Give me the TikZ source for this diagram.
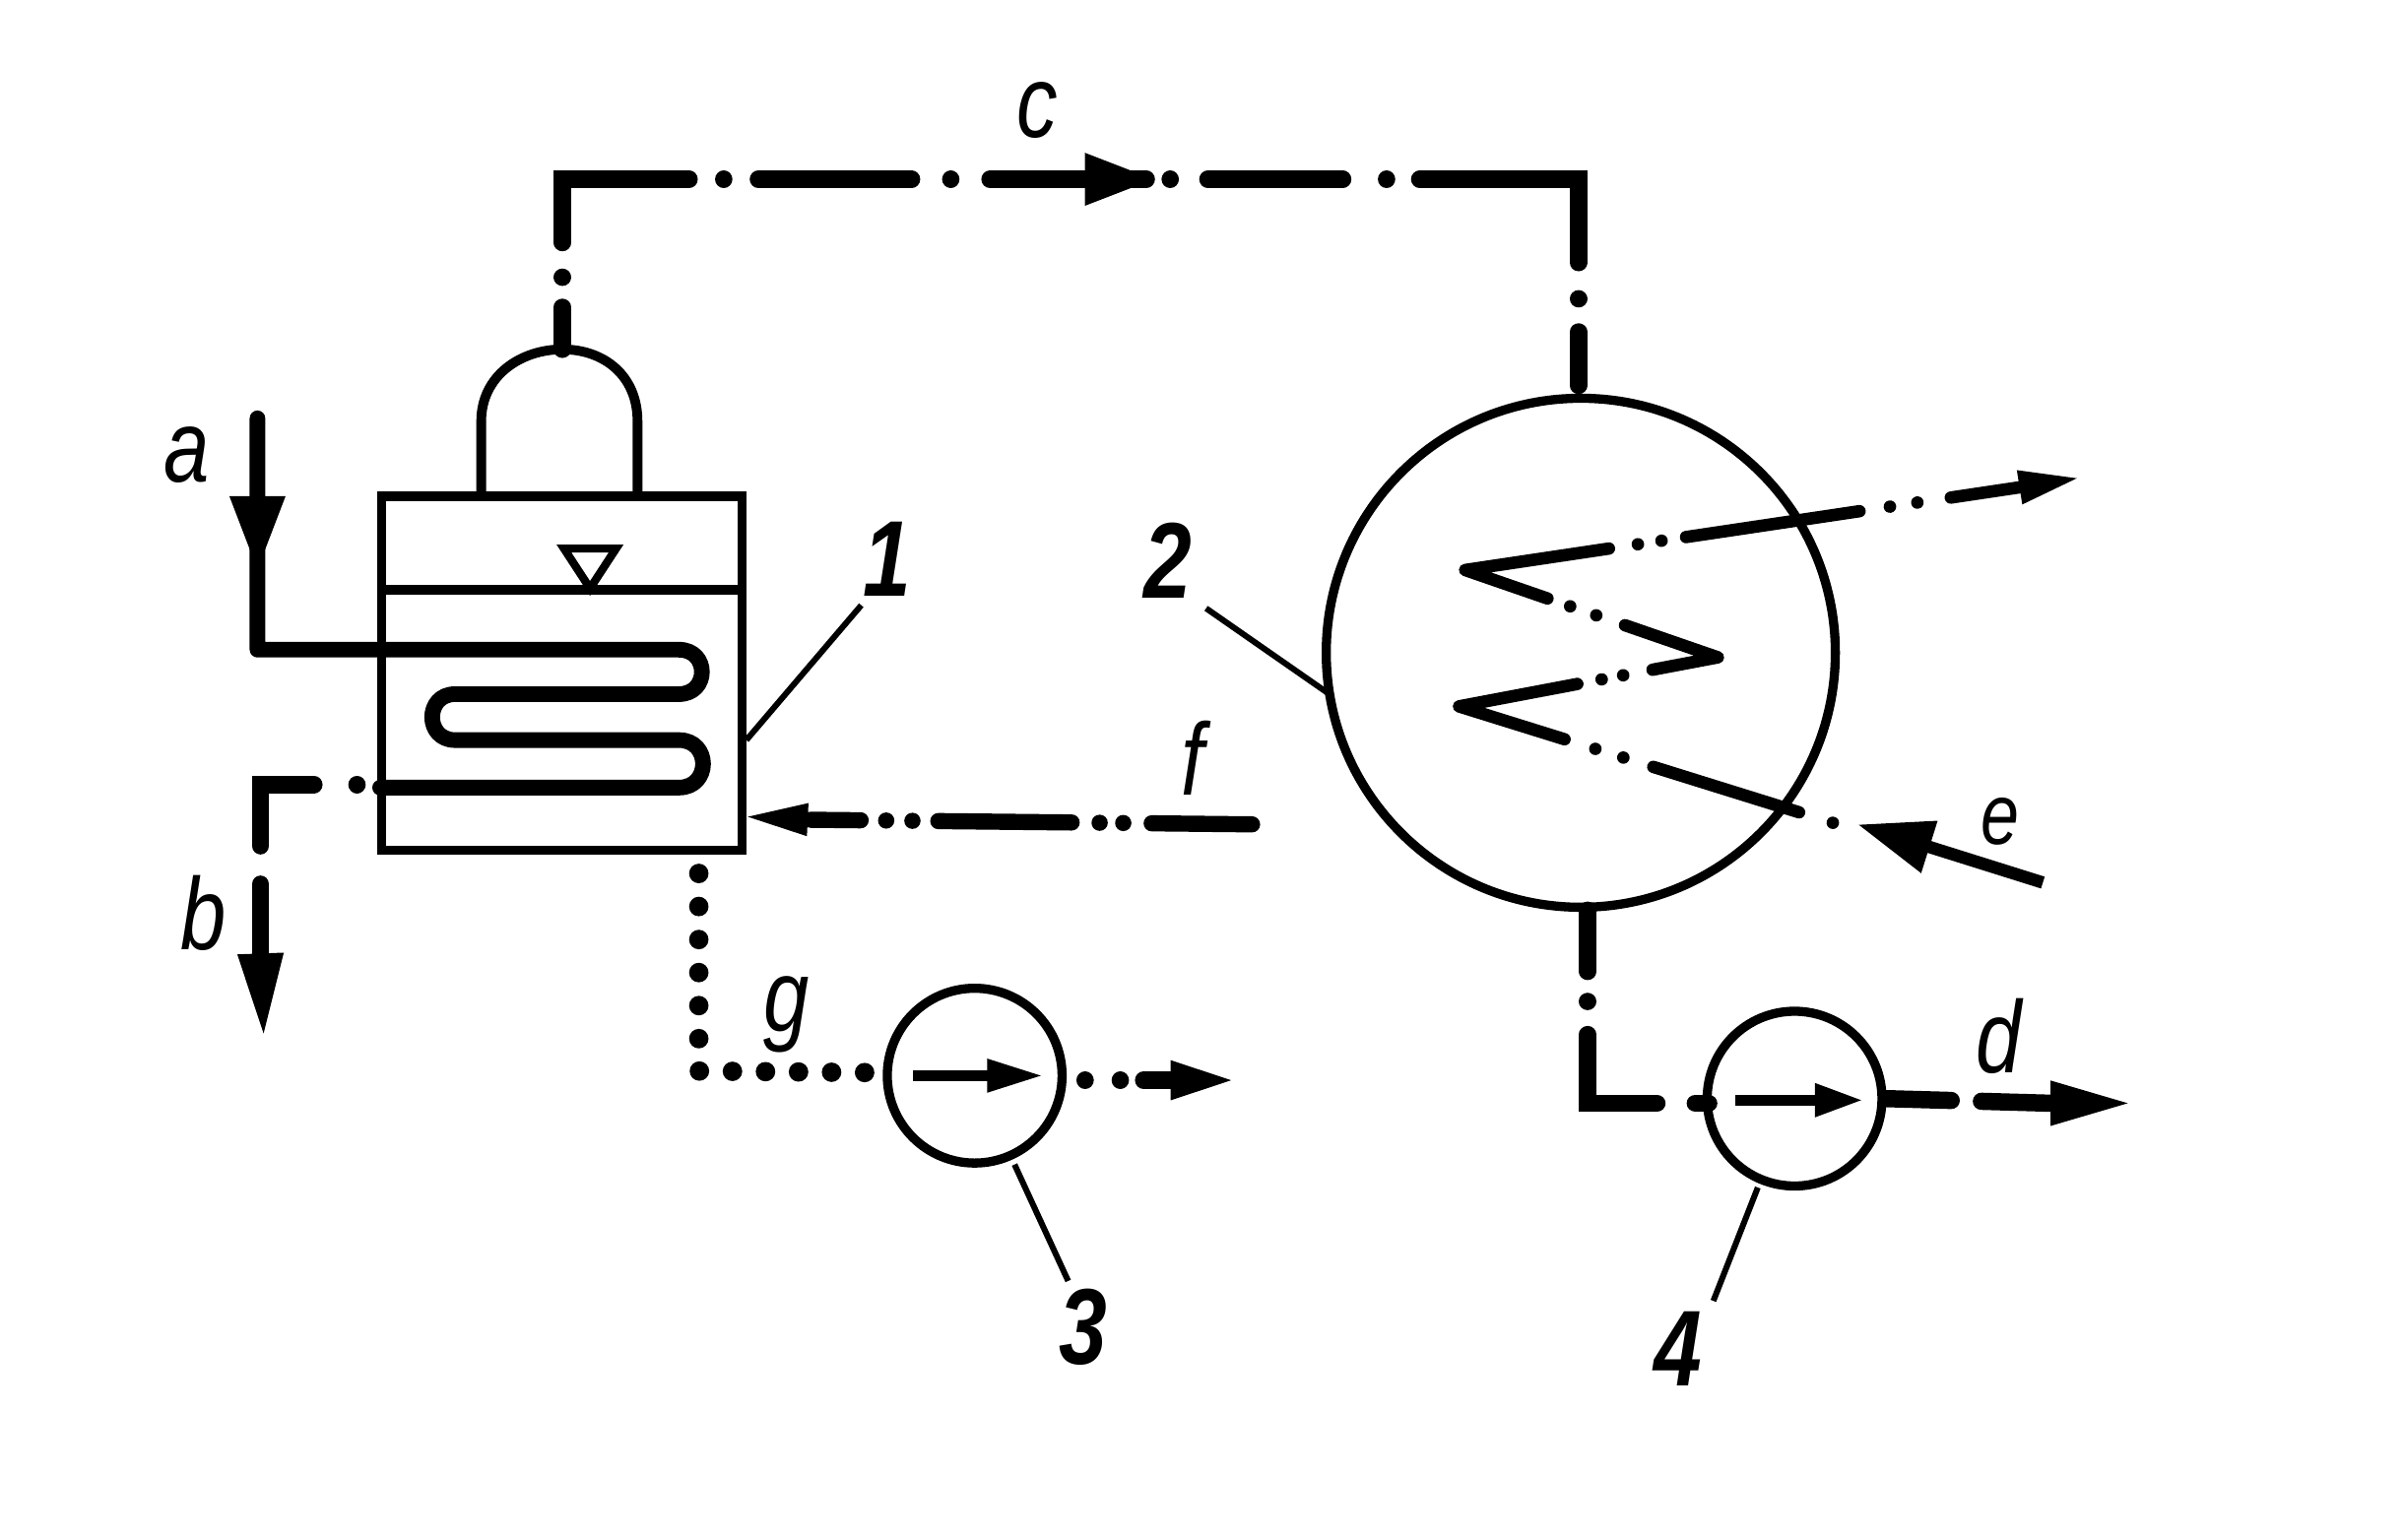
\documentclass[tikz,border=0pt]{standalone}
\usepackage{fontspec}
\newfontfamily\labelfont[FakeStretch=0.8]{Liberation Sans}
\usetikzlibrary{arrows.meta}
\tikzset{
  wall/.style={draw,line width=1.7pt,inner sep=0pt},
  leader/.style={line width=1.1pt},
  pipe/.style={line width=2.9pt,line cap=round,line join=round},
  flowline/.style={line width=3.2pt,line cap=round,line join=miter},
  dotline/.style={line width=3.6pt,line cap=round,dash pattern=on 0.03pt off 6.1pt},
  head/.style 2 args={line width=1.5pt,-{Triangle[length=#1,width=#2]}},
  lbl/.style={inner sep=0pt,font=\labelfont\itshape\fontsize{19}{19}\selectfont},
  num/.style={inner sep=0pt,font=\labelfont\bfseries\itshape\fontsize{20}{20}\selectfont}
}
\begin{document}
\begin{tikzpicture}[x=0.01cm,y=-0.01cm]
\useasboundingbox (0,0) rectangle (1568,1005);

\node[wall,rectangle,minimum width=2.35cm,minimum height=2.31cm] (vessel) at (366.5,439.5) {};
\node[wall,circle,minimum size=3.32cm] (evap) at (1031.5,426) {};
\node[wall,circle,minimum size=1.14cm] (pumpg) at (636,702) {};
\node[wall,circle,minimum size=1.14cm] (pumpd) at (1171,717) {};

\coordinate (domel) at (314,324);
\coordinate (domer) at (416,324);
\coordinate (domet) at (367,228);
\coordinate (levell) at (vessel.west |- 0,385);
\coordinate (levelr) at (vessel.east |- 0,385);
\path[draw,line width=1.8pt] (domel) -- (314,275) .. controls (314,245) and (340,228) .. (domet)
  .. controls (394,228) and (416,245) .. (416,275) -- (domer);
\path[draw,line width=1.7pt] (levell) -- (levelr);
\path[draw,line width=1.5pt] (368,358) -- (402,358) -- (385,384) -- cycle;

\coordinate (ctl) at (367,117);
\coordinate (ctr) at (1030,117);
\coordinate (etop) at (1030,258);
\path[draw,flowline,dash pattern=on 7.82pt off 5.55pt on 0.03pt off 6.40pt on 35.28pt off 6.40pt on 0.03pt off 6.40pt on 28.45pt off 7.25pt on 0.03pt off 7.25pt on 29.02pt off 4.41pt on 0.03pt off 6.97pt on 25.04pt off 8.11pt on 0.03pt off 6.12pt on 44.95pt off 6.69pt on 0.03pt off 6.12pt on 9.96pt off 5.69pt]
  (domet) -- (ctl) -- (ctr) -- (etop);
\coordinate (cbase) at (708,117);
\coordinate (ctip) at (753,117);
\path[draw,head={12.8pt}{9.4pt}] (cbase) -- (ctip);

\coordinate (atop) at (168,273);
\coordinate (acorner) at (168,424);
\coordinate (abase) at (168,324);
\coordinate (atip) at (168,372);
\coordinate (bstart) at (248,514);
\path[draw,pipe] (atop) -- (acorner) -- (443,424) .. controls (463,424) and (463,453) .. (443,453)
  -- (297,453) .. controls (277,453) and (277,483) .. (297,483)
  -- (443,483) .. controls (464,483) and (464,514) .. (443,514) -- (bstart);
\path[draw,head={13.7pt}{10pt}] (abase) -- (atip);

\coordinate (bdot) at (233,512);
\coordinate (bcorner) at (170,512);
\coordinate (bbase) at (170,622);
\coordinate (btip) at (172,675);
\path[draw,flowline,dash pattern=on 0.03pt off 7.97pt on 21.3pt off 7.1pt on 28.45pt off 14.2pt]
  (bdot) -- (bcorner) -- (bbase);
\path[draw,head={15pt}{8.2pt}] (bbase) -- (btip);

\coordinate (fend) at (817,538);
\coordinate (fbase) at (529,535);
\coordinate (ftip) at (487,533);
\path[draw,flowline,line width=3pt,dash pattern=on 18.63pt off 5.26pt on 0.03pt off 4.35pt on 0.03pt off 5.18pt on 24.75pt off 4.78pt on 0.03pt off 4.84pt on 0.03pt off 4.72pt on 22.76pt off 5.69pt]
  (fend) -- (fbase);
\path[draw,head={11.4pt}{5.7pt}] (fbase) -- (ftip);

\coordinate (vl) at (1196,537);
\coordinate (v1) at (956,372);
\coordinate (v2) at (1121,429);
\coordinate (v3) at (952,461);
\coordinate (outend) at (1318,318);
\coordinate (outtip) at (1356,312);
\coordinate (ein) at (1333,576);
\coordinate (etip) at (1212,538);
\path[draw,line width=2.3pt,line cap=round,line join=round,dash pattern=on 0.03pt off 6.54pt on 28.34pt off 5.80pt on 0.03pt off 5.41pt on 0.03pt off 5.97pt on 42.87pt off 4.58pt on 0.03pt off 4.04pt on 0.03pt off 5.52pt on 30.61pt off 5.63pt on 0.03pt off 5.09pt on 0.03pt off 4.44pt on 43.16pt off 5.41pt on 0.03pt off 4.41pt on 0.03pt off 4.58pt on 32.55pt off 5.69pt on 0.03pt off 5.12pt on 0.03pt off 6.26pt on 56.9pt off 28.45pt]
  (vl) -- (v3) -- (v2) -- (v1) -- (outend);
\path[draw,head={11pt}{6pt}] (outend) -- (outtip);
\path[draw,line width=2.3pt,-{Triangle[length=14pt,width=9.5pt]}] (ein) -- (etip);

\coordinate (gtop) at (456,570);
\coordinate (gcorner) at (456,699);
\coordinate (gend) at (566,700);
\path[draw,dotline] (gtop) -- (gcorner) -- (gend);
\coordinate (gout) at (708,705);
\coordinate (gbase) at (764,705);
\coordinate (gtip) at (804,705);
\path[draw,flowline,dash pattern=on 0.03pt off 6.5pt on 0.03pt off 4.3pt on 20pt off 5pt] (gout) -- (gbase);
\path[draw,head={11.4pt}{7pt}] (gbase) -- (gtip);
\path[draw,line width=2pt,-{Triangle[length=10.5pt,width=5.7pt]}] (596,702) -- (681,702);

\coordinate (dtop) at (1036,594);
\coordinate (dcorner) at (1036,720);
\coordinate (din) at (1115,720);
\path[draw,flowline,dash pattern=on 11.38pt off 5.55pt on 0.03pt off 6.12pt on 25.6pt off 7.11pt on 8.54pt off 5.69pt]
  (dtop) -- (dcorner) -- (din);
\coordinate (dbase) at (1338,720);
\coordinate (dtip) at (1389,720);
\path[draw,flowline,dash pattern=on 12pt off 5.6pt on 40pt off 5pt] (pumpd.east) -- (dbase);
\path[draw,head={14.5pt}{8pt}] (dbase) -- (dtip);
\path[draw,line width=2pt,-{Triangle[length=9pt,width=5.7pt]}] (1132,718) -- (1216,718);

\path[draw,leader] (487,483) -- (562,395);
\path[draw,leader] (787,397) -- (866,452);
\path[draw,leader] (662,760) -- (697,836);
\path[draw,leader] (1147,775) -- (1118,849);

\node[lbl] (la) at (122,297) {a};
\node[lbl] (lb) at (133,596) {b};
\node[lbl] (lc) at (677,72) {c};
\node[lbl] (ld) at (1304,676) {d};
\node[lbl,font=\labelfont\itshape\fontsize{16}{16}\selectfont] (le) at (1305,536) {e};
\node[lbl] (lf) at (778,495) {f};
\node[lbl] (lg) at (513,662) {g};
\node[num] (n1) at (579,365) {1};
\node[num] (n2) at (762,366) {2};
\node[num] (n3) at (707,866) {3};
\node[num] (n4) at (1095,880) {4};
\end{tikzpicture}
\end{document}
